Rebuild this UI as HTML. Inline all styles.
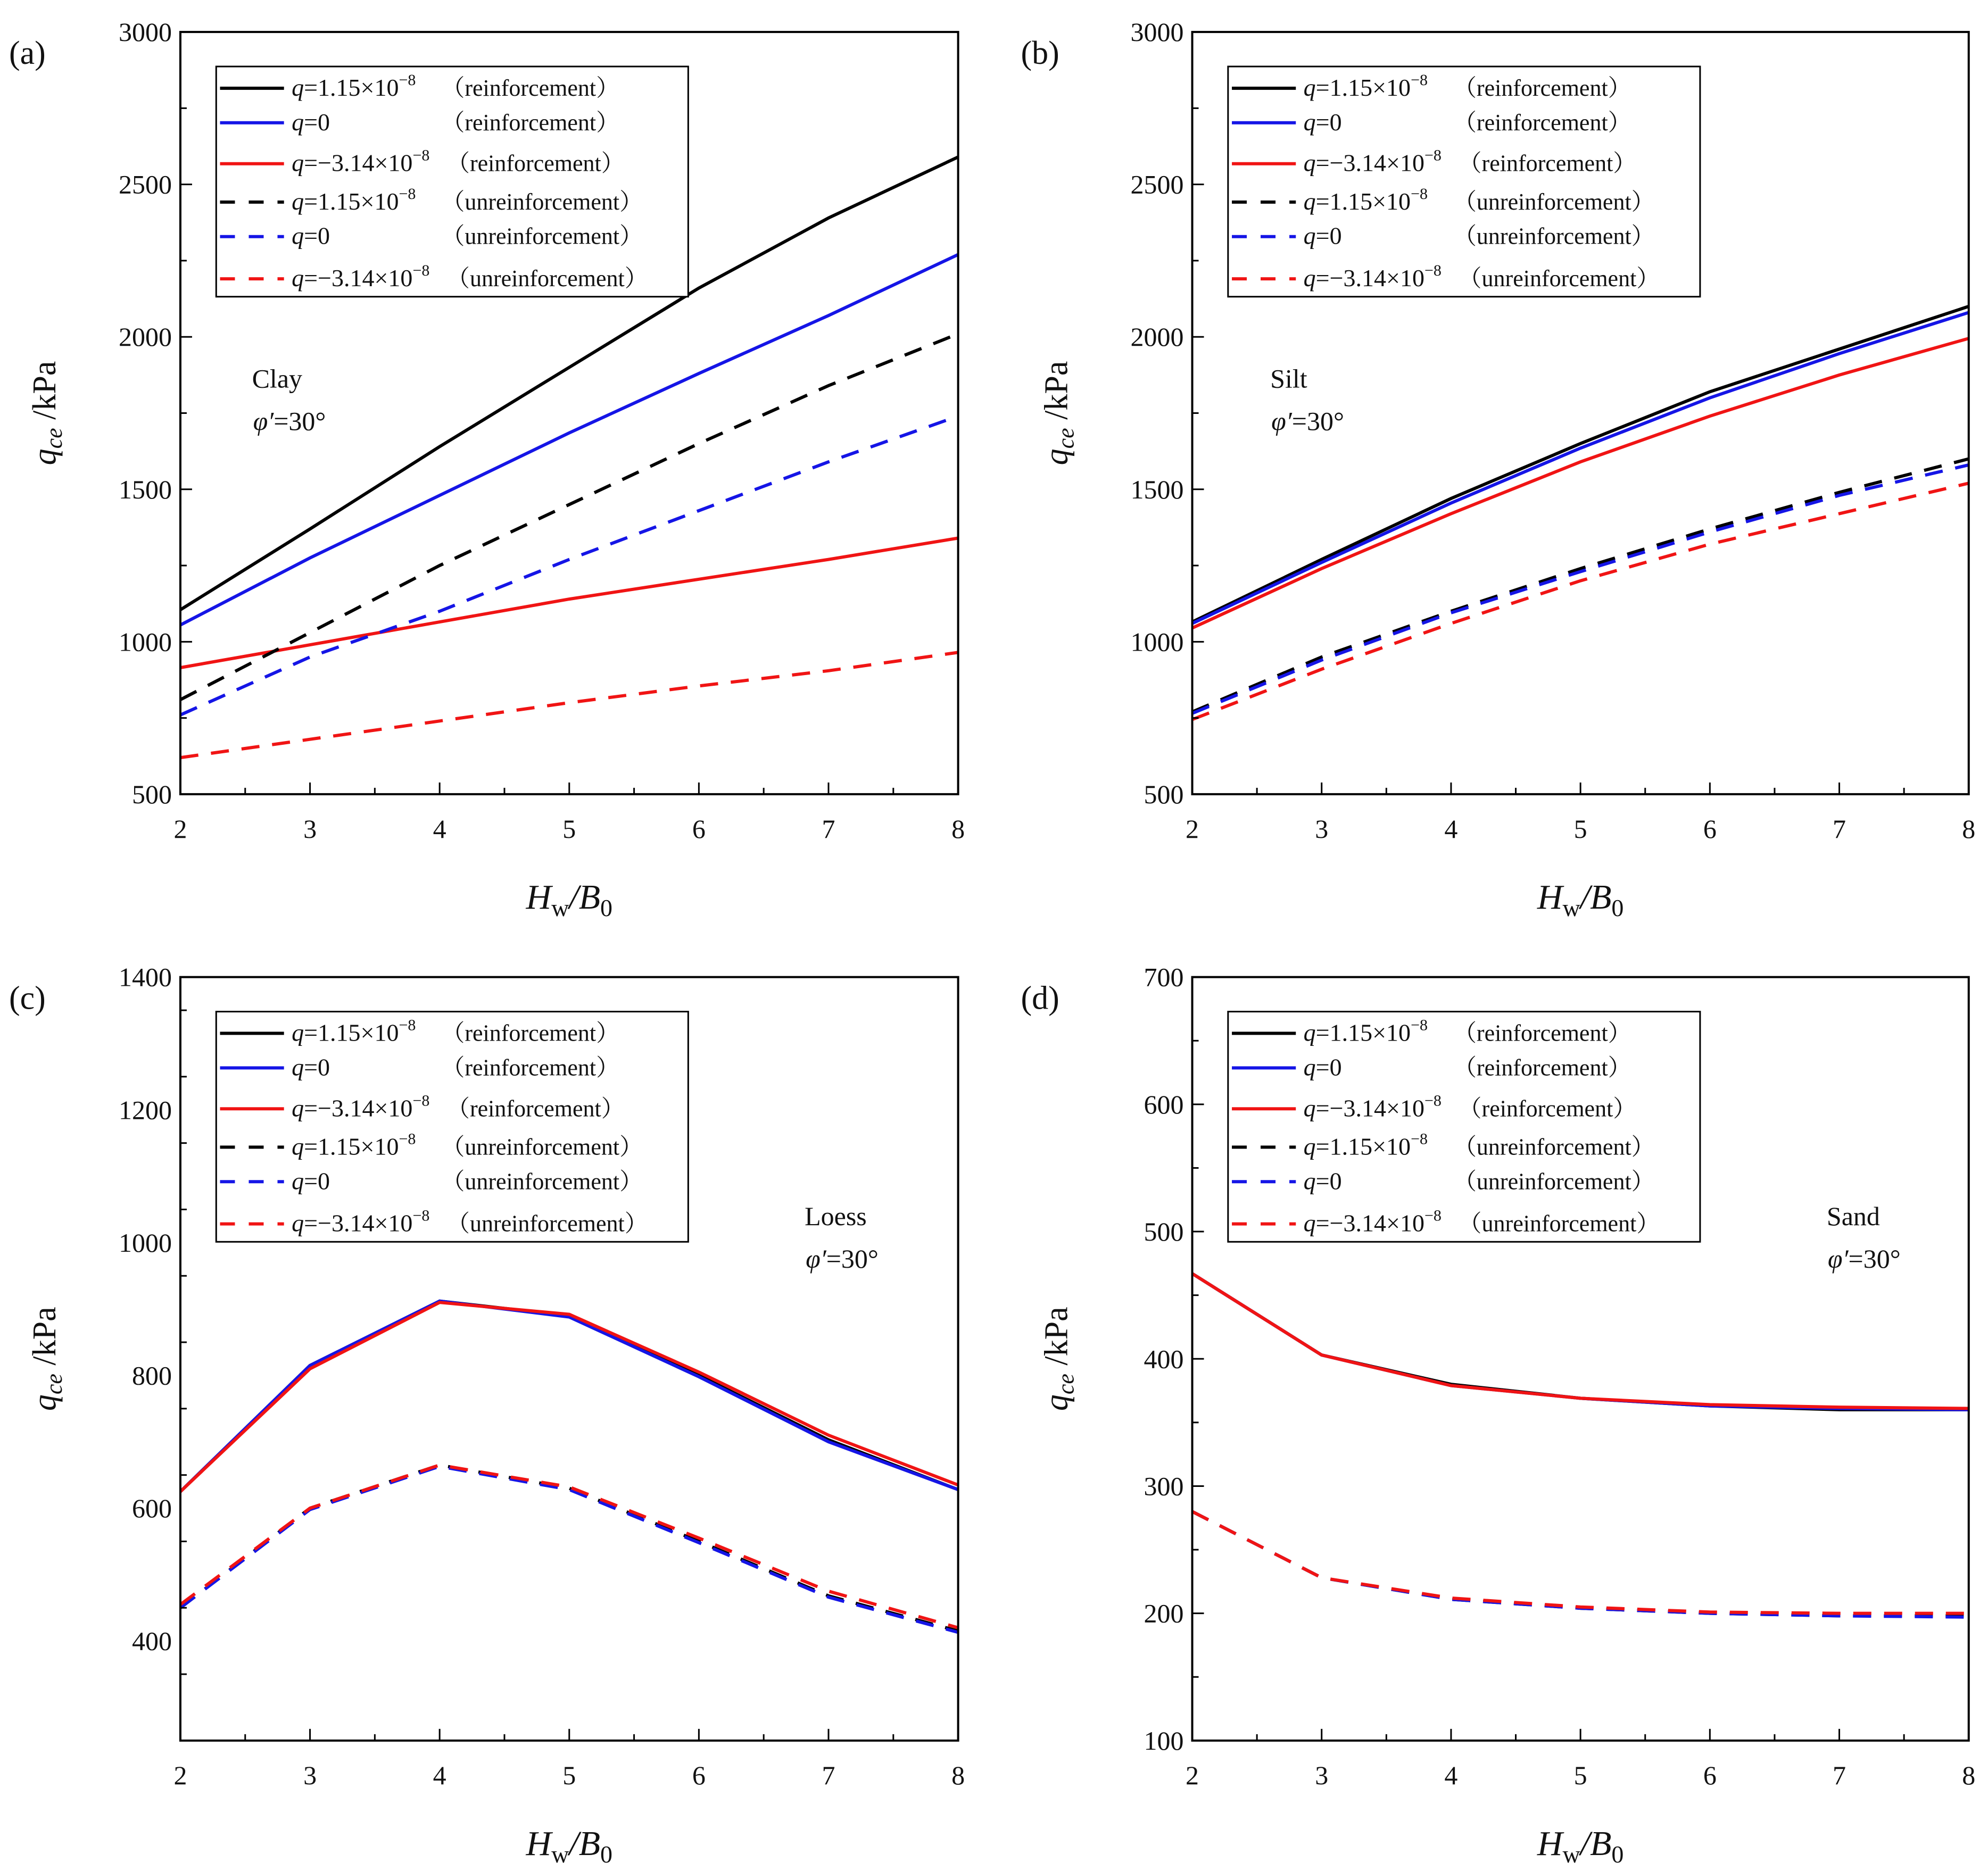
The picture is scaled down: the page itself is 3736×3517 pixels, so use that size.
<!DOCTYPE html>
<html><head><meta charset="utf-8"><style>
html,body{margin:0;padding:0;background:#fff}
svg{display:block}
text{font-family:"Liberation Serif","Noto Serif CJK SC",serif;fill:#111}
</style></head><body>
<svg id="fig" width="3736" height="3517" viewBox="0 0 3736 3517" xmlns="http://www.w3.org/2000/svg"></svg>
<script>
const xCats = [2,3,4,5,6,7,8];
// Panel a (Clay)
const aBlackSolid=[1105,1370,1640,1900,2160,2390,2590];
const aBlueSolid=[1055,1275,1480,1685,1880,2070,2270];
const aRedSolid=[915,990,1065,1140,1205,1270,1340];
const aBlackDash=[810,1030,1250,1450,1650,1840,2010];
const aBlueDash=[760,950,1100,1270,1430,1590,1740];
const aRedDash=[620,680,740,800,855,905,965];
// Panel b (Silt)
const bBlackSolid=[1065,1270,1470,1650,1820,1960,2100];
const bBlueSolid=[1060,1260,1455,1635,1800,1945,2080];
const bRedSolid=[1045,1240,1420,1590,1740,1875,1995];
const bBlackDash=[770,950,1100,1240,1370,1490,1600];
const bBlueDash=[765,940,1095,1230,1360,1480,1580];
const bRedDash=[745,910,1060,1200,1320,1420,1520];
// Panel c (Loess)
const cBlackSolid=[625,815,912,890,800,703,628];
const cBlueSolid=[625,815,912,888,798,700,628];
const cRedSolid=[625,810,910,892,805,710,635];
const cBlackDash=[450,600,665,630,550,468,415];
const cBlueDash=[450,598,663,628,548,466,413];
const cRedDash=[455,600,665,632,555,475,420];
// Panel d (Sand)
const dBlackSolid=[467,403,380,369,363,360,360];
const dBlueSolid=[467,403,379,369,363,361,360];
const dRedSolid=[467,403,379,369,364,362,361];
const dBlackDash=[280,228,211,204,200,198,198];
const dBlueDash=[280,228,211,204,200,198,197];
const dRedDash=[280,228,212,205,201,200,200];
const aTicks=[500,1000,1500,2000,2500,3000];
const cTicks=[400,600,800,1000,1200,1400];
const dTicks=[100,200,300,400,500,600,700];
const xTicks=[2,3,4,5,6,7,8];

const NS="http://www.w3.org/2000/svg";
const svg=document.getElementById('fig');
function mk(tag,attrs,parent,txt){const e=document.createElementNS(NS,tag);for(const k in attrs)e.setAttribute(k,attrs[k]);if(txt!==undefined)e.textContent=txt;(parent||svg).appendChild(e);return e;}

const S=2.404;
const panels=[
 {id:'a',x0:141*S,x1:749*S,y0:25*S,y1:621*S,ymin:500,ymax:3000,ticks:aTicks,minor:250,
  series:[aBlackSolid,aBlueSolid,aRedSolid,aBlackDash,aBlueDash,aRedDash],
  soil:'Clay',sx:197*S,sy:303*S},
 {id:'b',x0:932*S,x1:1539*S,y0:25*S,y1:621*S,ymin:500,ymax:3000,ticks:aTicks,minor:250,
  series:[bBlackSolid,bBlueSolid,bRedSolid,bBlackDash,bBlueDash,bRedDash],
  soil:'Silt',sx:993*S,sy:303*S},
 {id:'c',x0:141*S,x1:749*S,y0:764*S,y1:1361*S,ymin:250,ymax:1400,ticks:cTicks,minor:100,
  series:[cBlackSolid,cBlueSolid,cRedSolid,cBlackDash,cBlueDash,cRedDash],
  soil:'Loess',sx:629*S,sy:958*S},
 {id:'d',x0:932*S,x1:1539*S,y0:764*S,y1:1361*S,ymin:100,ymax:700,ticks:dTicks,minor:50,
  series:[dBlackSolid,dBlueSolid,dRedSolid,dBlackDash,dBlueDash,dRedDash],
  soil:'Sand',sx:1428*S,sy:958*S}
];
const colors=['#000','#1515e6','#f01414','#000','#1515e6','#f01414'];
const leg=[['1.15×10','−8','（reinforcement）'],['0','','（reinforcement）'],['−3.14×10','−8','（reinforcement）'],
 ['1.15×10','−8','（unreinforcement）'],['0','','（unreinforcement）'],['−3.14×10','−8','（unreinforcement）']];
const names=['q-1.15e-8-reinforcement','q-0-reinforcement','q-neg3.14e-8-reinforcement','q-1.15e-8-unreinforcement','q-0-unreinforcement','q-neg3.14e-8-unreinforcement'];
const legDy=[17,44,76,106,133,166];
const legTx=[176,176,180,176,176,180];

panels.forEach(p=>{
 const g=mk('g',{});
 
 
 const X=v=>p.x0+(v-2)/6*(p.x1-p.x0);
 const Y=v=>p.y1-(v-p.ymin)/(p.ymax-p.ymin)*(p.y1-p.y0);
 p.series.forEach((arr,i)=>{
  const d=arr.map((v,j)=>(j?'L':'M')+X(xCats[j]).toFixed(1)+' '+Y(v).toFixed(1)).join(' ');
  const pa=mk('path',{d:d,fill:'none',stroke:colors[i],'stroke-width':6,'stroke-dasharray':i>=3?'34 24':'none'},g);
  
  
 });
 const fr=mk('rect',{x:p.x0,y:p.y0,width:p.x1-p.x0,height:p.y1-p.y0,fill:'none',stroke:'#000','stroke-width':4},g);
 
 
 for(let v=2;v<=8.001;v+=0.5){const maj=Math.abs(v-Math.round(v))<1e-6;
  mk('line',{x1:X(v),x2:X(v),y1:p.y1,y2:p.y1-(maj?22:12),stroke:'#000','stroke-width':3},g);}
 xTicks.forEach(v=>{const t=mk('text',{x:X(v),y:p.y1+82,'font-size':50,'text-anchor':'middle'},g,String(v));
  
  });
 for(let v=p.ymin;v<=p.ymax+1e-6;v+=p.minor){const maj=p.ticks.indexOf(Math.round(v))>=0;
  mk('line',{x1:p.x0,x2:p.x0+(maj?22:12),y1:Y(v),y2:Y(v),stroke:'#000','stroke-width':3},g);}
 p.ticks.forEach(v=>{const t=mk('text',{x:p.x0-16,y:Y(v)+17,'font-size':50,'text-anchor':'end'},g,String(v));
  
  });
 const xt=mk('text',{x:(p.x0+p.x1)/2,y:p.y1+215,'font-size':66,'text-anchor':'middle','font-style':'italic'},g);
 
 
 xt.innerHTML='H<tspan font-size="46" font-style="normal" dy="14">w</tspan><tspan dy="-14">/B</tspan><tspan font-size="46" font-style="normal" dy="14">0</tspan>';
 const yc=(p.y0+p.y1)/2, yx=p.x0-255;
 const yt=mk('text',{x:0,y:0,'font-size':62,'text-anchor':'middle',transform:`translate(${yx+20},${yc}) rotate(-90)`},g);
 
 
 yt.innerHTML='<tspan font-style="italic">q</tspan><tspan font-style="italic" font-size="44" dy="12">ce</tspan><tspan dy="-12"> /kPa</tspan>';
 const pl=mk('text',{x:p.x0-322,y:p.y0+60,'font-size':62},g,'('+p.id+')');
 
 
 const an=mk('text',{x:p.sx,y:p.sy,'font-size':50},g,p.soil);
 
 
 const an2=mk('text',{x:p.sx+2,y:p.sy+80,'font-size':50},g);
 
 
 an2.innerHTML='<tspan font-style="italic">φ′</tspan>=30°';
 const lx=p.x0+28*S, ly=p.y0+27*S;
 const lg=mk('g',{},g);
 
 
 mk('rect',{x:lx,y:ly,width:369*S,height:180*S,fill:'#fff',stroke:'#000','stroke-width':3},lg);
 leg.forEach((L,i)=>{
  const yy=ly+legDy[i]*S;
  const e=mk('g',{},lg);
  
  
  mk('line',{x1:lx+3*S,x2:lx+53*S,y1:yy,y2:yy,stroke:colors[i],'stroke-width':6,'stroke-dasharray':i>=3?'28 26':'none'},e);
  const t=mk('text',{x:lx+59*S,y:yy+14,'font-size':46},e);
  t.innerHTML='<tspan font-style="italic">q</tspan>='+L[0]+(L[1]?'<tspan font-size="30" dy="-20">'+L[1]+'</tspan>':'');
  mk('text',{x:lx+legTx[i]*S,y:yy+14,'font-size':44},e,L[2]);
 });
});
</script>
</body></html>
